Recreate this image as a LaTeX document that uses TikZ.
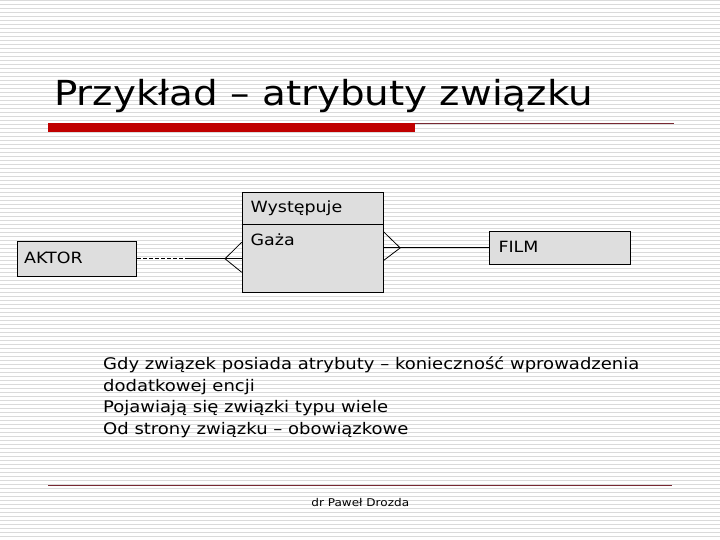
\documentclass[tikz,border=0pt]{standalone}
\usepackage{graphicx}
\usepackage{fontspec}
\setmainfont{DejaVu Sans}
\usetikzlibrary{calc}
\definecolor{stripe}{RGB}{218,218,218}
\definecolor{barred}{RGB}{192,0,0}
\definecolor{rule}{RGB}{120,40,50}
\definecolor{boxfill}{RGB}{222,222,222}
\newcommand\hstr[1]{\scalebox{1.125}[1]{#1}}
\tikzset{
  box/.style={draw=black, fill=boxfill, line width=1pt, inner sep=0pt, anchor=north west},
  boxtext/.style={anchor=base west, inner sep=0pt, font=\fontsize{15.5}{18}\selectfont},
  bodytext/.style={anchor=base west, inner sep=0pt, font=\fontsize{16}{19}\selectfont},
  conn/.style={line width=1pt, black}
}
\begin{document}
\begin{tikzpicture}[x=1pt,y=-1pt]
\useasboundingbox (0,0) rectangle (720,540);
\fill[white] (0,0) rectangle (720,540);
\foreach \k in {0,...,134} {
  \draw[stripe, line width=1.3pt] (0,{0.8+4*\k}) -- (720,{0.8+4*\k});
}
% title
\node[anchor=base west, inner sep=0pt, font=\fontsize{34.5}{36}\selectfont] (title) at (54,106) {\hstr{Przykład – atrybuty związku}};
\fill[barred] (48,123) rectangle (415,132.5);
\draw[rule, line width=1pt] (415,123.8) -- (674,123.8);
% entities
\node[box, minimum width=119, minimum height=34.5] (aktor) at (17,241) {};
\node[box, minimum width=141, minimum height=100.6] (rel) at (241.7,191.7) {};
\node[box, minimum width=141, minimum height=33.4] (film) at (489.3,230.7) {};
\draw[line width=1pt] ($(rel.north west)+(0,33.3)$) -- ($(rel.north east)+(0,33.3)$);
\node[boxtext] (tA) at (24,263.3) {\hstr{AKTOR}};
\node[boxtext] (tW) at (250.5,212.3) {\hstr{Występuje}};
\node[boxtext] (tG) at (250.5,245) {\hstr{Gaża}};
\node[boxtext] (tF) at (498.3,252.3) {\hstr{FILM}};
% connectors
\coordinate (m) at ($(aktor.east)+(51,0)$);
\coordinate (le) at (rel.west |- aktor.east);
\coordinate (re) at (rel.east |- film.west);
\draw[conn, dash pattern=on 4pt off 2pt] (aktor.east) -- (m);
\draw[conn] (m) -- (le);
\draw[conn, line width=0.8pt] ($(le)+(0,-16.5)$) -- ($(le)+(-16.7,0)$) -- ($(le)+(0,13.5)$);
\draw[conn] (re) -- (film.west);
\draw[conn, line width=0.8pt] ($(re)+(0,-16)$) -- ($(re)+(16.5,0)$) -- ($(re)+(0,12.5)$);
% body text
\node[bodytext] (p1) at (103,369.3) {\hstr{Gdy związek posiada atrybuty – konieczność wprowadzenia}};
\node[bodytext] (p2) at (103,391) {\hstr{dodatkowej encji}};
\node[bodytext] (p3) at (103,412.7) {\hstr{Pojawiają się związki typu wiele}};
\node[bodytext] (p4) at (103,434.3) {\hstr{Od strony związku – obowiązkowe}};
% footer
\draw[rule, line width=1pt] (48,485.7) -- (672,485.7);
\node[anchor=base, inner sep=0pt, font=\fontsize{10.7}{12}\selectfont] (footer) at (360.3,506) {\hstr{dr Paweł Drozda}};
\end{tikzpicture}
\end{document}
